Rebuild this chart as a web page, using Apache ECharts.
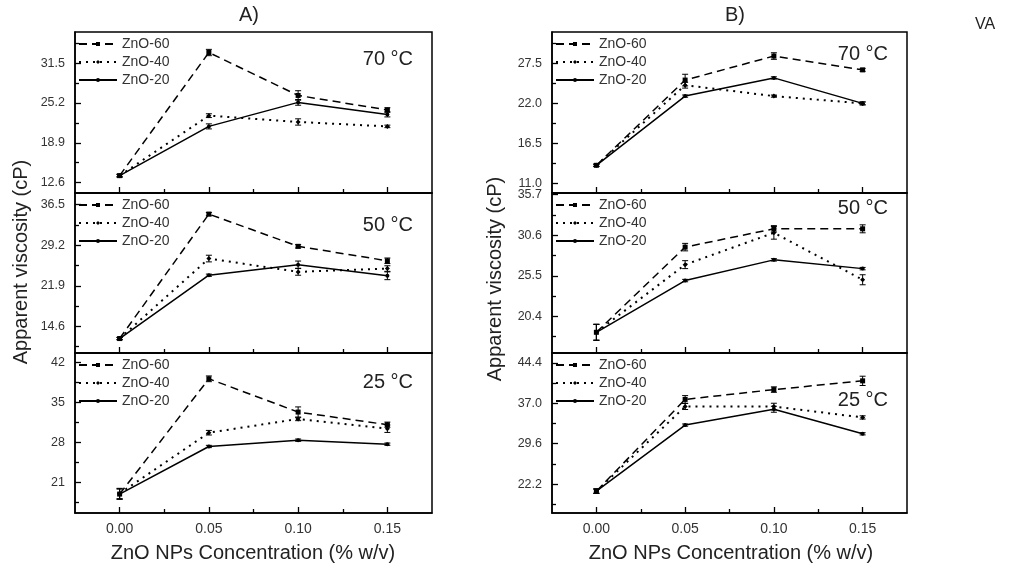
<!DOCTYPE html>
<html><head><meta charset="utf-8">
<script src="https://cdn.jsdelivr.net/npm/echarts@6/dist/echarts.min.js"></script>
<style>html,body{margin:0;padding:0;background:#fff}#c{width:1015px;height:569px}</style>
</head><body><div id="c"></div>
<script>
// ---------------- data ----------------
const concentrations = [0, 0.05, 0.10, 0.15];
const seriesNames = ['ZnO-60', 'ZnO-40', 'ZnO-20'];
const temperatures = ['70 °C', '50 °C', '25 °C'];
const xTickLabels = [0, 0.05, 0.10, 0.15];
const xMinorTicks = [0.025, 0.075, 0.125];

// Panel A
const A70_ZnO60 = [13.7, 33.2, 26.4, 24.1];
const A70_ZnO40 = [13.7, 23.2, 22.2, 21.5];
const A70_ZnO20 = [13.7, 21.5, 25.3, 23.4];
const A70_ZnO60_err = [0.2, 0.5, 0.75, 0.35];
const A70_ZnO40_err = [0.2, 0.3, 0.5, 0.2];
const A70_ZnO20_err = [0.2, 0.4, 0.45, 0.4];
const A70_ticks = [12.6, 18.9, 25.2, 31.5];
const A70_minor = [15.75, 22.05, 28.35, 34.65];

const A50_ZnO60 = [12.4, 34.8, 29.0, 26.4];
const A50_ZnO40 = [12.4, 26.8, 24.4, 25.0];
const A50_ZnO20 = [12.4, 23.8, 25.7, 23.7];
const A50_ZnO60_err = [0.2, 0.3, 0.3, 0.5];
const A50_ZnO40_err = [0.2, 0.6, 0.6, 0.5];
const A50_ZnO20_err = [0.2, 0.2, 0.65, 0.7];
const A50_ticks = [14.6, 21.9, 29.2, 36.5];
const A50_minor = [10.95, 18.25, 25.55, 32.85];

const A25_ZnO60 = [19.0, 39.1, 33.3, 31.1];
const A25_ZnO40 = [19.1, 29.7, 32.1, 30.4];
const A25_ZnO20 = [19.0, 27.3, 28.4, 27.7];
const A25_ZnO60_err = [0.9, 0.5, 0.9, 0.45];
const A25_ZnO40_err = [0.9, 0.4, 0.3, 0.65];
const A25_ZnO20_err = [0.9, 0.2, 0.2, 0.2];
const A25_ticks = [21, 28, 35, 42];
const A25_minor = [17.5, 24.5, 31.5, 38.5];

// Panel B
const B70_ZnO60 = [13.5, 25.2, 28.5, 26.6];
const B70_ZnO40 = [13.5, 24.5, 23.0, 22.0];
const B70_ZnO20 = [13.5, 23.0, 25.5, 22.0];
const B70_ZnO60_err = [0.15, 0.8, 0.45, 0.2];
const B70_ZnO40_err = [0.15, 0.4, 0.15, 0.2];
const B70_ZnO20_err = [0.15, 0.15, 0.15, 0.2];
const B70_ticks = [11.0, 16.5, 22.0, 27.5];
const B70_minor = [13.75, 19.25, 24.75, 30.25];

const B50_ZnO60 = [18.4, 29.1, 31.4, 31.4];
const B50_ZnO40 = [18.4, 26.9, 30.9, 25.0];
const B50_ZnO20 = [18.4, 24.9, 27.5, 26.4];
const B50_ZnO60_err = [1.0, 0.47, 0.4, 0.5];
const B50_ZnO40_err = [1.0, 0.5, 0.8, 0.63];
const B50_ZnO20_err = [1.0, 0.15, 0.15, 0.15];
const B50_ticks = [20.4, 25.5, 30.6, 35.7];
const B50_minor = [17.85, 22.95, 28.05, 33.15];

const B25_ZnO60 = [20.9, 37.7, 39.5, 41.1];
const B25_ZnO40 = [20.9, 36.4, 36.4, 34.4];
const B25_ZnO20 = [20.9, 33.0, 35.9, 31.4];
const B25_ZnO60_err = [0.4, 0.7, 0.5, 0.85];
const B25_ZnO40_err = [0.4, 0.55, 0.6, 0.3];
const B25_ZnO20_err = [0.4, 0.2, 0.55, 0.2];
const B25_ticks = [22.2, 29.6, 37.0, 44.4];
const B25_minor = [18.5, 25.9, 33.3, 40.7];

// axis ranges
const A_ranges = [[10.95, 36.45], [9.8, 38.6], [15.7, 43.6]];
const B_ranges = [[9.7, 31.8], [15.8, 35.9], [16.9, 46.2]];

// ---------------- layout ----------------
const FONT = '"Liberation Sans", Arial, sans-serif';
const colLeft = [75, 552];
const colWidth = [357, 355];
const rowTop = [32, 193, 353];
const rowHeight = [161, 160, 160];

const panels = [
  {col:0,row:0,vals:[A70_ZnO60,A70_ZnO40,A70_ZnO20],errs:[A70_ZnO60_err,A70_ZnO40_err,A70_ZnO20_err],ticks:A70_ticks,minor:A70_minor,range:A_ranges[0],dec:1,temp:temperatures[0],ty:60},
  {col:0,row:1,vals:[A50_ZnO60,A50_ZnO40,A50_ZnO20],errs:[A50_ZnO60_err,A50_ZnO40_err,A50_ZnO20_err],ticks:A50_ticks,minor:A50_minor,range:A_ranges[1],dec:1,temp:temperatures[1],ty:226},
  {col:0,row:2,vals:[A25_ZnO60,A25_ZnO40,A25_ZnO20],errs:[A25_ZnO60_err,A25_ZnO40_err,A25_ZnO20_err],ticks:A25_ticks,minor:A25_minor,range:A_ranges[2],dec:0,temp:temperatures[2],ty:383},
  {col:1,row:0,vals:[B70_ZnO60,B70_ZnO40,B70_ZnO20],errs:[B70_ZnO60_err,B70_ZnO40_err,B70_ZnO20_err],ticks:B70_ticks,minor:B70_minor,range:B_ranges[0],dec:1,temp:temperatures[0],ty:55},
  {col:1,row:1,vals:[B50_ZnO60,B50_ZnO40,B50_ZnO20],errs:[B50_ZnO60_err,B50_ZnO40_err,B50_ZnO20_err],ticks:B50_ticks,minor:B50_minor,range:B_ranges[1],dec:1,temp:temperatures[1],ty:209},
  {col:1,row:2,vals:[B25_ZnO60,B25_ZnO40,B25_ZnO20],errs:[B25_ZnO60_err,B25_ZnO40_err,B25_ZnO20_err],ticks:B25_ticks,minor:B25_minor,range:B_ranges[2],dec:1,temp:temperatures[2],ty:401}
];

const lineTypes = [[8, 5], [2, 5], 'solid'];
const symbols = ['rect', 'diamond', 'circle'];
const symbolSizes = [5, 5, 4];

function renderErr(params, api) {
  const x = api.value(0), v = api.value(1), e = api.value(2);
  const hi = api.coord([x, v + e]), lo = api.coord([x, v - e]);
  const w = 3;
  const st = {stroke: '#000', lineWidth: 1};
  return {type: 'group', children: [
    {type: 'line', shape: {x1: hi[0], y1: hi[1], x2: lo[0], y2: lo[1]}, style: st},
    {type: 'line', shape: {x1: hi[0]-w, y1: hi[1], x2: hi[0]+w, y2: hi[1]}, style: st},
    {type: 'line', shape: {x1: lo[0]-w, y1: lo[1], x2: lo[0]+w, y2: lo[1]}, style: st}
  ]};
}

const grid = [], xAxis = [], yAxis = [], series = [], legend = [], graphic = [];

panels.forEach((p, i) => {
  const left = colLeft[p.col], top = rowTop[p.row], width = colWidth[p.col], height = rowHeight[p.row];
  grid.push({left, top, width, height, show: true, borderColor: '#000', borderWidth: 1.5, backgroundColor: 'transparent'});
  const bottomRow = p.row === 2;
  xAxis.push({
    type: 'value', gridIndex: i, min: -0.025, max: 0.175, position: 'bottom',
    axisLine: {show: true, onZero: false, lineStyle: {color: '#000', width: 1.5}},
    axisTick: {show: true, inside: true, length: 6, customValues: xTickLabels, lineStyle: {color: '#000', width: 1.3}},
    axisLabel: {show: bottomRow, customValues: xTickLabels, formatter: v => v.toFixed(2), fontSize: 14, color: '#333', fontFamily: FONT, margin: 9},
    splitLine: {show: false}
  });
  yAxis.push({
    type: 'value', gridIndex: i, min: p.range[0], max: p.range[1], position: 'left',
    axisLine: {show: true, onZero: false, lineStyle: {color: '#000', width: 1.5}},
    axisTick: {show: true, inside: true, length: 6, customValues: p.ticks, lineStyle: {color: '#000', width: 1.3}},
    axisLabel: {show: true, customValues: p.ticks, formatter: v => v.toFixed(p.dec), fontSize: 12.5, color: '#333', fontFamily: FONT, margin: 10},
    splitLine: {show: false}
  });
  legend.push({
    data: seriesNames, orient: 'vertical', left: left + 3, top: top + 5,
    itemWidth: 38, itemHeight: 5, itemGap: 4, padding: 0, selectedMode: false,
    textStyle: {fontSize: 14, color: '#333', fontFamily: FONT}
  });
  seriesNames.forEach((name, s) => {
    series.push({
      type: 'line', name, xAxisIndex: i, yAxisIndex: i,
      data: concentrations.map((c, k) => [c, p.vals[s][k]]),
      symbol: symbols[s], symbolSize: symbolSizes[s],
      lineStyle: {color: '#000', width: s === 1 ? 2 : 1.5, type: lineTypes[s]},
      itemStyle: {color: '#000'}, z: 3, animation: false
    });
    series.push({
      type: 'custom', xAxisIndex: i, yAxisIndex: i,
      data: concentrations.map((c, k) => [c, p.vals[s][k], p.errs[s][k]]),
      encode: {x: 0, y: 1}, renderItem: renderErr, z: 4, animation: false, silent: true
    });
  });
  graphic.push({type: 'text', right: 1015 - (left + width - 19), top: p.ty - 11,
    style: {text: p.temp, fontSize: 20, fill: '#222', font: '20px ' + FONT}});
});

// minor tick overlay axes (invisible axis line, short inward ticks)
panels.forEach((p, i) => {
  xAxis.push({
    type: 'value', gridIndex: i, min: -0.025, max: 0.175, position: 'bottom',
    axisLine: {show: true, onZero: false, lineStyle: {opacity: 0}},
    axisLabel: {show: false}, splitLine: {show: false},
    axisTick: {show: true, inside: true, length: 4, customValues: xMinorTicks, lineStyle: {color: '#000', width: 1.3}}
  });
  yAxis.push({
    type: 'value', gridIndex: i, min: p.range[0], max: p.range[1], position: 'left',
    axisLine: {show: true, onZero: false, lineStyle: {opacity: 0}},
    axisLabel: {show: false}, splitLine: {show: false},
    axisTick: {show: true, inside: true, length: 4, customValues: p.minor, lineStyle: {color: '#000', width: 1.3}}
  });
});

// titles
graphic.push(
  {type: 'text', x: 249, y: 15, style: {text: 'A)', font: '20px ' + FONT, fill: '#222', align: 'center', verticalAlign: 'middle'}},
  {type: 'text', x: 735, y: 15, style: {text: 'B)', font: '20px ' + FONT, fill: '#222', align: 'center', verticalAlign: 'middle'}},
  {type: 'text', x: 985, y: 25, style: {text: 'VA', font: '16px ' + FONT, fill: '#222', align: 'center', verticalAlign: 'middle'}},
  {type: 'text', x: 253, y: 553, style: {text: 'ZnO NPs Concentration (% w/v)', font: '20px ' + FONT, fill: '#222', align: 'center', verticalAlign: 'middle'}},
  {type: 'text', x: 731, y: 553, style: {text: 'ZnO NPs Concentration (% w/v)', font: '20px ' + FONT, fill: '#222', align: 'center', verticalAlign: 'middle'}},
  {type: 'text', x: 21, y: 262, rotation: Math.PI / 2, style: {text: 'Apparent viscosity (cP)', font: '20px ' + FONT, fill: '#222', align: 'center', verticalAlign: 'middle'}},
  {type: 'text', x: 495, y: 279, rotation: Math.PI / 2, style: {text: 'Apparent viscosity (cP)', font: '20px ' + FONT, fill: '#222', align: 'center', verticalAlign: 'middle'}}
);

const chart = echarts.init(document.getElementById('c'), null, {renderer: 'canvas'});
chart.setOption({
  animation: false, backgroundColor: '#fff',
  grid, xAxis, yAxis, series, legend, graphic
});
</script></body></html>
